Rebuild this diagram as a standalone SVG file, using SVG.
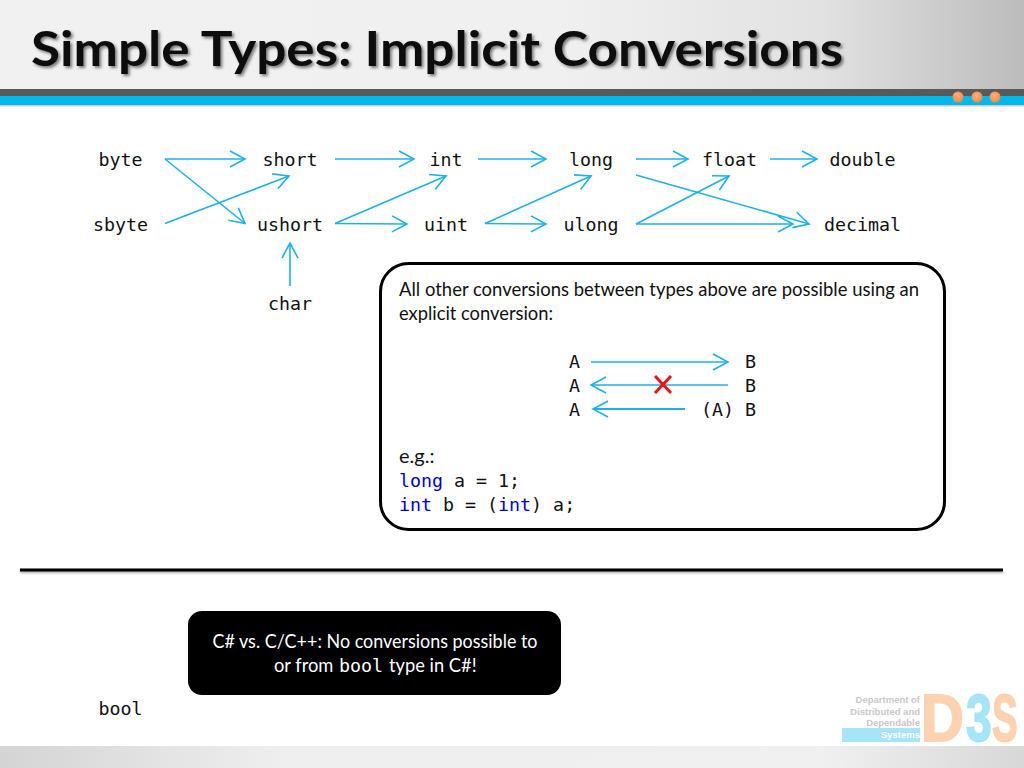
<svg xmlns="http://www.w3.org/2000/svg" width="1024" height="768" viewBox="0 0 1024 768">
<style>
.m{font-family:"DejaVu Sans Mono","Liberation Mono",monospace;font-size:18.3px;fill:#111}
.c{font-family:Lato,"Open Sans",sans-serif;font-size:20px;fill:#111}
.mid{text-anchor:middle}
.k{fill:#0000d0}
.a{fill:none;stroke:#1fb0e6;stroke-width:1.6;marker-end:url(#h)}
.lg{font-family:"Liberation Sans",sans-serif;font-size:9.5px;font-weight:bold;fill:#c8c8c8;text-anchor:end}
.big{font-family:"Liberation Sans",sans-serif;font-weight:bold;font-size:66px;stroke-width:2}
.pe{fill:#fcd2b0;stroke:#fcd2b0}
.bl{fill:#a6e4f7;stroke:#a6e4f7}
</style>
<defs>
<linearGradient id="hd" x1="0" x2="1" y1="0" y2="0"><stop offset="0" stop-color="#f1f1f1"/><stop offset=".55" stop-color="#f0f0f0"/><stop offset=".8" stop-color="#e2e2e2"/><stop offset="1" stop-color="#bcbcbc"/></linearGradient>
<linearGradient id="ft" x1="0" x2="1" y1="0" y2="0"><stop offset="0" stop-color="#d4d4d4"/><stop offset=".28" stop-color="#efefef"/><stop offset=".8" stop-color="#f0f0f0"/><stop offset="1" stop-color="#d8d8d8"/></linearGradient>
<radialGradient id="dot" cx=".45" cy=".4" r=".6"><stop offset="0" stop-color="#fdb27c"/><stop offset="1" stop-color="#ee8a45"/></radialGradient>
<filter id="sh" x="-5%" y="-20%" width="110%" height="150%"><feDropShadow dx="2" dy="2" stdDeviation="1.6" flood-color="#000" flood-opacity=".5"/></filter>
<filter id="ls" x="-2%" y="-300%" width="104%" height="700%"><feDropShadow dx="0" dy="1.5" stdDeviation="1" flood-color="#000" flood-opacity=".35"/></filter>
<marker id="h" markerUnits="userSpaceOnUse" viewBox="-16 -9 18 18" refX="0" refY="0" markerWidth="18" markerHeight="18" orient="auto"><path d="M-15-8L0 0L-15 8" fill="none" stroke="#1fb0e6" stroke-width="1.6"/></marker>
</defs>
<g id="header">
<rect width="1024" height="89" fill="url(#hd)"/>
<rect y="89" width="1024" height="7" fill="#595959"/>
<rect y="96" width="1024" height="9" fill="#00b8eb"/>
<rect y="105" width="1024" height="1.5" fill="#c8c8c8"/>
<circle cx="958" cy="97" r="5.5" fill="url(#dot)"/><circle cx="977" cy="97" r="5.5" fill="url(#dot)"/><circle cx="995" cy="97" r="5.5" fill="url(#dot)"/>
<text x="31" y="66" font-family="Lato,'Open Sans',sans-serif" font-weight="bold" font-size="48" fill="#111" filter="url(#sh)" textLength="812" lengthAdjust="spacingAndGlyphs">Simple Types: Implicit Conversions</text>
</g>
<g id="footer">
<rect y="746" width="1024" height="22" fill="url(#ft)"/>
<g id="logo">
<rect x="842" y="728" width="78" height="14" fill="#a6e4f7"/>
<text class="lg" x="920" y="703">Department of</text>
<text class="lg" x="920" y="715">Distributed and</text>
<text class="lg" x="920" y="726">Dependable</text>
<text class="lg" x="920" y="738" style="fill:#fff">Systems</text>
<text class="big pe" transform="translate(921 741) scale(.9 1)">D</text>
<text class="big bl" transform="translate(966 741) scale(.7 1)">3</text>
<text class="big pe" transform="translate(992 741) scale(.58 1)">S</text>
</g>
</g>
<g id="connectors">
<path class="a" d="M165 159H245"/>
<path class="a" d="M165 159L245 223.5"/>
<path class="a" d="M165 223.5L289 176"/>
<path class="a" d="M335 159H414"/>
<path class="a" d="M335 223.5L446 176"/>
<path class="a" d="M335 223.5L407 224"/>
<path class="a" d="M290 286V243"/>
<path class="a" d="M478 159H546"/>
<path class="a" d="M485 223.5L591 176"/>
<path class="a" d="M485 223.5L546 224"/>
<path class="a" d="M636 159H688"/>
<path class="a" d="M770 159H817"/>
<path class="a" d="M636 175L809 224"/>
<path class="a" d="M636 224L729 176"/>
<path class="a" d="M636 224H793"/>
</g>
<g id="byte"><text class="m mid" x="120.500" y="166">byte</text></g>
<g id="short"><text class="m mid" x="290" y="166">short</text></g>
<g id="int"><text class="m mid" x="446" y="166">int</text></g>
<g id="long"><text class="m mid" x="591" y="166">long</text></g>
<g id="float"><text class="m mid" x="729.500" y="166">float</text></g>
<g id="double"><text class="m mid" x="862.500" y="166">double</text></g>
<g id="sbyte"><text class="m mid" x="120.500" y="231">sbyte</text></g>
<g id="ushort"><text class="m mid" x="290" y="231">ushort</text></g>
<g id="uint"><text class="m mid" x="446" y="231">uint</text></g>
<g id="ulong"><text class="m mid" x="591" y="231">ulong</text></g>
<g id="decimal"><text class="m mid" x="862.500" y="231">decimal</text></g>
<g id="char"><text class="m mid" x="290" y="310">char</text></g>
<g id="bool"><text class="m mid" x="120.500" y="715">bool</text></g>
<g id="note">
<rect x="380.500" y="263.500" width="564" height="266" rx="28" fill="#fff" stroke="#000" stroke-width="3"/>
<text class="c" x="399" y="296" textLength="520" lengthAdjust="spacingAndGlyphs">All other conversions between types above are possible using an</text>
<text class="c" x="399" y="320" textLength="154" lengthAdjust="spacingAndGlyphs">explicit conversion:</text>
<text class="m" x="569" y="368">A</text><text class="m" x="745" y="368">B</text>
<text class="m" x="569" y="392">A</text><text class="m" x="745" y="392">B</text>
<text class="m" x="569" y="416">A</text><text class="m" x="701" y="416">(A) B</text>
<path class="a" d="M591 362H728"/>
<path class="a" d="M728 385H591"/>
<path class="a" d="M685 409H593" style="stroke-width:2"/>
<path d="M655 376L671 393M671 376L655 393" stroke="#ee1111" stroke-width="3" fill="none"/>
<text class="c" x="399" y="463">e.g.:</text>
<text class="m" x="399" y="487"><tspan class="k">long</tspan> a = 1;</text>
<text class="m" x="399" y="511"><tspan class="k">int</tspan> b = (<tspan class="k">int</tspan>) a;</text>
</g>
<g id="divider"><rect x="20" y="568.500" width="983" height="3" fill="#000" filter="url(#ls)"/></g>
<g id="warning">
<rect x="188" y="611" width="373" height="84" rx="14" fill="#000"/>
<text class="c mid" x="375" y="648" style="fill:#fff" textLength="325" lengthAdjust="spacingAndGlyphs">C# vs. C/C++: No conversions possible to</text>
<text class="c" y="672" style="fill:#fff;font-size:18.3px"><tspan x="274">or from </tspan><tspan class="m" x="339" style="fill:#fff;font-size:18.3px">bool </tspan><tspan x="389">type in C#!</tspan></text>
</g>
</svg>
